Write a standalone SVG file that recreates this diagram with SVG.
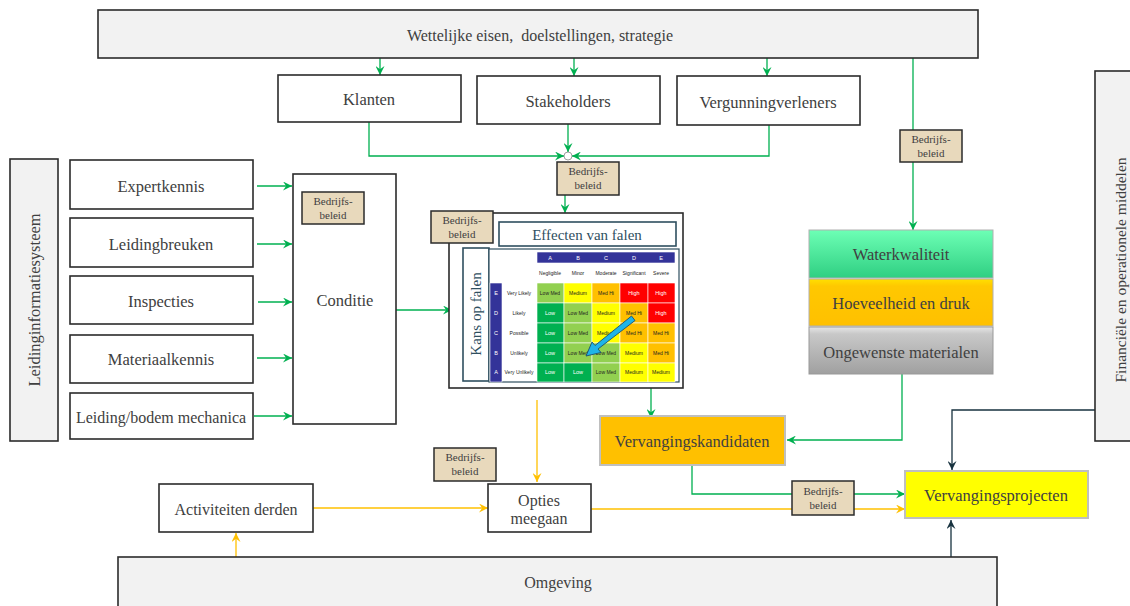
<svg xmlns="http://www.w3.org/2000/svg" width="1130" height="606" viewBox="0 0 1130 606">
<style>
.t{font-family:"Liberation Serif","DejaVu Serif",serif;fill:#404040;text-anchor:middle;dominant-baseline:central}
.n{fill:#fff;stroke:#2b2b2b;stroke-width:1.6}
.g{fill:#f2f2f2;stroke:#2b2b2b;stroke-width:1.6}
.bb{fill:#e8d9bc;stroke:#2b2b2b;stroke-width:1.5}
.bt{font-family:"Liberation Serif","DejaVu Serif",serif;fill:#404040;text-anchor:middle;font-size:11px}
.cg{fill:none;stroke:#00b050;stroke-width:1.3}
.co{fill:none;stroke:#ffc000;stroke-width:1.3}
.cd{fill:none;stroke:#17323f;stroke-width:1.3}
.m{font-family:"Liberation Sans",Arial,sans-serif;font-size:5px;text-anchor:middle;dominant-baseline:central;fill:#222}
.mw{font-family:"Liberation Sans",Arial,sans-serif;font-size:5.5px;text-anchor:middle;dominant-baseline:central;fill:#fff}
.L{fill:#00b050}.LM{fill:#92d050}.M{fill:#ffff00}.MH{fill:#ffc000}.H{fill:#ff0000}
.cell{stroke:#fff;stroke-width:0.6}
</style>
<defs>
<marker id="ag" viewBox="0 0 10 10" refX="10" refY="5" markerWidth="9" markerHeight="9" markerUnits="userSpaceOnUse" orient="auto"><path d="M0,0 L10,5 L0,10 L3.5,5 z" fill="#00b050"/></marker>
<marker id="ao" viewBox="0 0 10 10" refX="10" refY="5" markerWidth="9" markerHeight="9" markerUnits="userSpaceOnUse" orient="auto"><path d="M0,0 L10,5 L0,10 L3.5,5 z" fill="#ffc000"/></marker>
<marker id="ad" viewBox="0 0 10 10" refX="10" refY="5" markerWidth="9" markerHeight="9" markerUnits="userSpaceOnUse" orient="auto"><path d="M0,0 L10,5 L0,10 L3.5,5 z" fill="#17323f"/></marker>
<linearGradient id="gw" x1="0" y1="0" x2="0" y2="1"><stop offset="0" stop-color="#6dffb5"/><stop offset="1" stop-color="#2fcf82"/></linearGradient>
<linearGradient id="gh" x1="0" y1="0" x2="0" y2="1"><stop offset="0" stop-color="#ffe000"/><stop offset="0.15" stop-color="#ffc800"/><stop offset="1" stop-color="#ffc000"/></linearGradient>
<linearGradient id="go" x1="0" y1="0" x2="0" y2="1"><stop offset="0" stop-color="#e6e6e6"/><stop offset="0.15" stop-color="#c8c8c8"/><stop offset="1" stop-color="#a0a0a0"/></linearGradient>
</defs>

<g id="connectors">
<path class="cg" d="M380,58 V75" marker-end="url(#ag)"/>
<path class="cg" d="M574,58 V76" marker-end="url(#ag)"/>
<path class="cg" d="M767,58 V76" marker-end="url(#ag)"/>
<path class="cg" d="M913,58 V230" marker-end="url(#ag)"/>
<path class="cg" d="M369,122 V156 H564" marker-end="url(#ag)"/>
<path class="cg" d="M568,124 V152" marker-end="url(#ag)"/>
<path class="cg" d="M769,125 V156 H572" marker-end="url(#ag)"/>
<path class="cg" d="M565,195 V213" marker-end="url(#ag)"/>
<path class="cg" d="M257,186 H292" marker-end="url(#ag)"/>
<path class="cg" d="M257,244 H292" marker-end="url(#ag)"/>
<path class="cg" d="M258,302 H292" marker-end="url(#ag)"/>
<path class="cg" d="M257,358 H292" marker-end="url(#ag)"/>
<path class="cg" d="M254,416 H292" marker-end="url(#ag)"/>
<path class="cg" d="M396,310 H452" marker-end="url(#ag)"/>
<path class="cg" d="M651,388 V418" marker-end="url(#ag)"/>
<path class="co" d="M537,400 V482" marker-end="url(#ao)"/>
<path class="cg" d="M902,374 V440 H787" marker-end="url(#ag)"/>
<path class="cg" d="M692,465 V494 H905" marker-end="url(#ag)"/>
<path class="co" d="M591,509 H905" marker-end="url(#ao)"/>
<path class="co" d="M313,508 H488" marker-end="url(#ao)"/>
<path class="co" d="M236,565 V533" marker-end="url(#ao)"/>
<path class="cd" d="M1095,410 H952 V470" marker-end="url(#ad)"/>
<path class="cd" d="M951,557 V520" marker-end="url(#ad)"/>
<circle cx="568" cy="156" r="4" fill="#fff" stroke="#888" stroke-width="0.8"/>
</g>

<g id="top-banner"><rect class="g" x="98" y="10" width="880" height="48"/><text class="t" x="540" y="35" font-size="16" xml:space="preserve">Wettelijke eisen,  doelstellingen, strategie</text></g>

<g id="klanten"><rect class="n" x="278" y="75" width="183" height="47"/><text class="t" x="369" y="99" font-size="16.5">Klanten</text></g>
<g id="stakeholders"><rect class="n" x="477" y="76" width="183" height="48"/><text class="t" x="568" y="101" font-size="16.5">Stakeholders</text></g>
<g id="vergunningverleners"><rect class="n" x="677" y="76" width="183" height="49"/><text class="t" x="768" y="102" font-size="16.5">Vergunningverleners</text></g>

<g id="bb-top-right"><rect class="bb" x="900" y="130" width="62" height="32"/><text class="bt" x="931" y="143">Bedrijfs-</text><text class="bt" x="931" y="157">beleid</text></g>
<g id="bb-junction"><rect class="bb" x="557" y="162" width="62" height="33"/><text class="bt" x="588" y="175">Bedrijfs-</text><text class="bt" x="588" y="189">beleid</text></g>

<g id="leidinginformatiesysteem"><rect class="g" x="10" y="159" width="48" height="282"/><text class="t" x="34" y="300" font-size="16.5" transform="rotate(-90 34 300)">Leidinginformatiesysteem</text></g>

<g id="expertkennis"><rect class="n" x="70" y="160" width="183" height="49"/><text class="t" x="161" y="186" font-size="16.5">Expertkennis</text></g>
<g id="leidingbreuken"><rect class="n" x="70" y="218" width="183" height="49"/><text class="t" x="161" y="244" font-size="16.5">Leidingbreuken</text></g>
<g id="inspecties"><rect class="n" x="70" y="276" width="183" height="48"/><text class="t" x="161" y="301" font-size="16.5">Inspecties</text></g>
<g id="materiaalkennis"><rect class="n" x="70" y="335" width="183" height="48"/><text class="t" x="161" y="359" font-size="16.5">Materiaalkennis</text></g>
<g id="leiding-bodem"><rect class="n" x="70" y="393" width="183" height="46"/><text class="t" x="161" y="417" font-size="16">Leiding/bodem mechanica</text></g>

<g id="conditie"><rect class="n" x="293" y="174" width="103" height="250"/><text class="t" x="345" y="300" font-size="16.5">Conditie</text>
<rect class="bb" x="302" y="192" width="62" height="32"/><text class="bt" x="333" y="205">Bedrijfs-</text><text class="bt" x="333" y="219">beleid</text></g>

<g id="risicomatrix">
<rect x="449" y="213" width="234" height="175" fill="#fff" stroke="#2b2b2b" stroke-width="1.6"/>
<rect x="499" y="222" width="177" height="24" fill="#fff" stroke="#2f4f5f" stroke-width="1.6"/>
<text class="t" x="587" y="235" font-size="15" style="fill:#2f4f5f">Effecten van falen</text>
<rect x="463" y="248" width="26" height="133" fill="#fff" stroke="#2f4f5f" stroke-width="1.6"/>
<text class="t" x="476" y="314" font-size="15" transform="rotate(-90 476 314)" style="fill:#2f4f5f">Kans op falen</text>
<rect x="489" y="249" width="190" height="133" fill="#fff" stroke="#2f4f5f" stroke-width="1.2"/>
<g class="cell">
<rect x="537" y="252" width="138" height="11" fill="#333399"/>
<rect x="490" y="283" width="12" height="99" fill="#333399"/>
</g>
<text class="mw" x="550" y="257.5">A</text><text class="mw" x="578" y="257.5">B</text><text class="mw" x="606" y="257.5">C</text><text class="mw" x="634" y="257.5">D</text><text class="mw" x="661" y="257.5">E</text>
<text class="m" x="550" y="273">Negligible</text><text class="m" x="578" y="273">Minor</text><text class="m" x="606" y="273">Moderate</text><text class="m" x="634" y="273">Significant</text><text class="m" x="661" y="273">Severe</text>
<text class="mw" x="496" y="293">E</text><text class="mw" x="496" y="313">D</text><text class="mw" x="496" y="333">C</text><text class="mw" x="496" y="353">B</text><text class="mw" x="496" y="372">A</text>
<text class="m" x="519" y="293">Very Likely</text><text class="m" x="519" y="313">Likely</text><text class="m" x="519" y="333">Possible</text><text class="m" x="519" y="353">Unlikely</text><text class="m" x="519" y="372">Very Unlikely</text>
<g class="cell">
<rect class="LM" x="537" y="283" width="27" height="20"/><rect class="M" x="564" y="283" width="28" height="20"/><rect class="MH" x="592" y="283" width="28" height="20"/><rect class="H" x="620" y="283" width="28" height="20"/><rect class="H" x="648" y="283" width="27" height="20"/>
<rect class="L" x="537" y="303" width="27" height="20"/><rect class="LM" x="564" y="303" width="28" height="20"/><rect class="M" x="592" y="303" width="28" height="20"/><rect class="MH" x="620" y="303" width="28" height="20"/><rect class="H" x="648" y="303" width="27" height="20"/>
<rect class="L" x="537" y="323" width="27" height="20"/><rect class="LM" x="564" y="323" width="28" height="20"/><rect class="M" x="592" y="323" width="28" height="20"/><rect class="MH" x="620" y="323" width="28" height="20"/><rect class="MH" x="648" y="323" width="27" height="20"/>
<rect class="L" x="537" y="343" width="27" height="20"/><rect class="LM" x="564" y="343" width="28" height="20"/><rect class="LM" x="592" y="343" width="28" height="20"/><rect class="M" x="620" y="343" width="28" height="20"/><rect class="MH" x="648" y="343" width="27" height="20"/>
<rect class="L" x="537" y="363" width="27" height="19"/><rect class="L" x="564" y="363" width="28" height="19"/><rect class="LM" x="592" y="363" width="28" height="19"/><rect class="M" x="620" y="363" width="28" height="19"/><rect class="M" x="648" y="363" width="27" height="19"/>
</g>
<text class="m" x="550" y="293">Low Med</text><text class="m" x="578" y="293">Medium</text><text class="m" x="606" y="293">Med Hi</text><text class="mw" x="634" y="293">High</text><text class="mw" x="661" y="293">High</text>
<text class="mw" x="550" y="313">Low</text><text class="m" x="578" y="313">Low Med</text><text class="m" x="606" y="313">Medium</text><text class="m" x="634" y="313">Med Hi</text><text class="mw" x="661" y="313">High</text>
<text class="mw" x="550" y="333">Low</text><text class="m" x="578" y="333">Low Med</text><text class="m" x="606" y="333">Medium</text><text class="m" x="634" y="333">Med Hi</text><text class="m" x="661" y="333">Med Hi</text>
<text class="mw" x="550" y="353">Low</text><text class="m" x="578" y="353">Low Med</text><text class="m" x="606" y="353">Low Med</text><text class="m" x="634" y="353">Medium</text><text class="m" x="661" y="353">Med Hi</text>
<text class="mw" x="550" y="372">Low</text><text class="mw" x="578" y="372">Low</text><text class="m" x="606" y="372">Low Med</text><text class="m" x="634" y="372">Medium</text><text class="m" x="661" y="372">Medium</text>
<path d="M631.5,316 L635,320.5 L598,349 L601,352.5 L586,356 L592,342 L595,345.5 Z" fill="#1fb4e8" stroke="#1b4f72" stroke-width="0.9"/>
<rect class="bb" x="431" y="211" width="62" height="32"/><text class="bt" x="462" y="224">Bedrijfs-</text><text class="bt" x="462" y="238">beleid</text>
</g>

<g id="waterkwaliteit"><rect x="809" y="230" width="184" height="48" fill="url(#gw)" stroke="#b0b0b0" stroke-width="1"/><text class="t" x="901" y="254" font-size="16.5">Waterkwaliteit</text></g>
<g id="hoeveelheid"><rect x="809" y="279" width="184" height="47" fill="url(#gh)" stroke="#b0b0b0" stroke-width="1"/><text class="t" x="901" y="303" font-size="16.5">Hoeveelheid en druk</text></g>
<g id="ongewenste"><rect x="809" y="327" width="184" height="47" fill="url(#go)" stroke="#999" stroke-width="1"/><text class="t" x="901" y="352" font-size="16.5">Ongewenste materialen</text></g>

<g id="financiele"><rect class="g" x="1095" y="71" width="40" height="370"/><text class="t" x="1120" y="270" font-size="15.5" transform="rotate(-90 1120 270)">Financiële en operationele middelen</text></g>

<g id="vervangingskandidaten"><rect x="600" y="416" width="185" height="49" fill="#ffc000" stroke="#bfbfbf" stroke-width="2"/><text class="t" x="692" y="441" font-size="16.5">Vervangingskandidaten</text></g>
<g id="vervangingsprojecten"><rect x="905" y="471" width="183" height="47" fill="#ffff00" stroke="#bfbfbf" stroke-width="2"/><text class="t" x="996" y="495" font-size="16.5">Vervangingsprojecten</text></g>

<g id="bb-opties"><rect class="bb" x="434" y="448" width="62" height="33"/><text class="bt" x="465" y="461">Bedrijfs-</text><text class="bt" x="465" y="475">beleid</text></g>
<g id="bb-projecten"><rect class="bb" x="792" y="481" width="62" height="34"/><text class="bt" x="823" y="495">Bedrijfs-</text><text class="bt" x="823" y="509">beleid</text></g>

<g id="activiteiten"><rect class="n" x="159" y="484" width="154" height="48"/><text class="t" x="236" y="509" font-size="16">Activiteiten derden</text></g>
<g id="opties"><rect class="n" x="488" y="484" width="103" height="48"/><text class="t" x="539" y="500" font-size="16">Opties</text><text class="t" x="539" y="518" font-size="16">meegaan</text></g>

<g id="omgeving"><rect class="g" x="118" y="557" width="879" height="55"/><text class="t" x="558" y="582" font-size="16">Omgeving</text></g>
</svg>
